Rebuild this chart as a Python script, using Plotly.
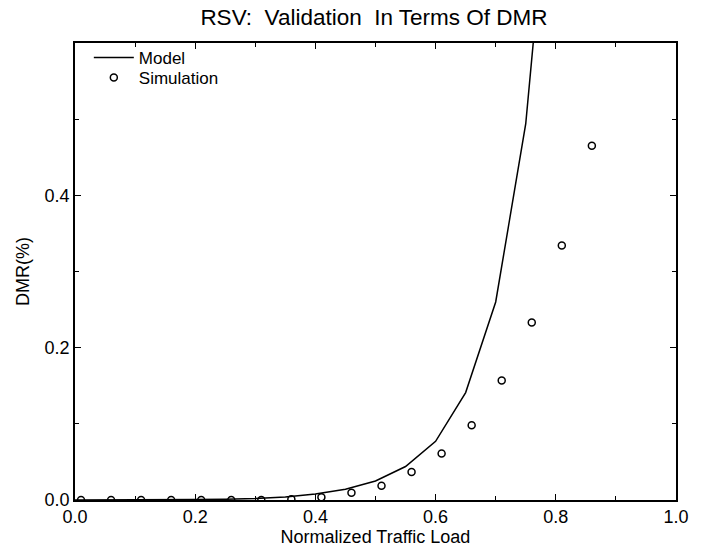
import plotly.graph_objects as go

# Model curve
model_x = [0.0, 0.05, 0.10, 0.15, 0.20, 0.25, 0.30, 0.35, 0.40, 0.45, 0.50, 0.55, 0.60, 0.65, 0.70, 0.75, 0.80]
model_y = [0.0, 0.0, 0.0, 0.0, 0.0005, 0.001, 0.002, 0.004, 0.008, 0.014, 0.025, 0.044, 0.077, 0.141, 0.260, 0.494, 0.92]

# Simulation points
sim_x = [0.01, 0.06, 0.11, 0.16, 0.21, 0.26, 0.31, 0.36, 0.41, 0.46, 0.51, 0.56, 0.61, 0.66, 0.71, 0.76, 0.81, 0.86]
sim_y = [0.0, 0.0, 0.0, 0.0, 0.0, 0.0, 0.0, 0.001, 0.0035, 0.0096, 0.0188, 0.0367, 0.061, 0.098, 0.157, 0.233, 0.334, 0.465]

x_ticks = [0.0, 0.2, 0.4, 0.6, 0.8, 1.0]
x_ticklabels = ["0.0", "0.2", "0.4", "0.6", "0.8", "1.0"]
y_ticks = [0.0, 0.2, 0.4]
y_ticklabels = ["0.0", "0.2", "0.4"]

FONT = "Liberation Sans, Arial, Helvetica, sans-serif"

fig = go.Figure()
fig.add_trace(go.Scatter(x=model_x, y=model_y, mode="lines", name="Model",
                         line=dict(color="black", width=1.5), legend="legend"))
fig.add_trace(go.Scatter(x=sim_x, y=sim_y, mode="markers", name="Simulation",
                         marker=dict(symbol="circle-open", size=7, color="black",
                                     line=dict(width=1.5, color="black")),
                         legend="legend2"))

axis_common = dict(
    showgrid=False, zeroline=False, showline=True, linecolor="black", linewidth=1.5,
    mirror="ticks", ticks="inside", ticklen=6, tickwidth=1, tickcolor="black",
    tickfont=dict(size=18, color="black", family=FONT),
)

legend_common = dict(xanchor="left", yanchor="top", bgcolor="rgba(0,0,0,0)",
                     font=dict(size=17, color="black", family=FONT), itemwidth=40)

fig.update_layout(
    width=711, height=548,
    margin=dict(l=75, r=35, t=43, b=48, autoexpand=False),
    paper_bgcolor="white", plot_bgcolor="white",
    font=dict(family=FONT, color="black"),
    title=dict(text="RSV:\u00a0 Validation\u00a0 In Terms Of DMR", x=0.526, xanchor="center",
               y=0.969, yanchor="middle", font=dict(size=22.5, color="black", family=FONT)),
    showlegend=True,
    legend=dict(x=0.023, y=1.0066, **legend_common),
    legend2=dict(x=0.023, y=0.9628, **legend_common),
    xaxis=dict(range=[0, 1.0], tickvals=x_ticks, ticktext=x_ticklabels,
               title=dict(text="Normalized Traffic Load", font=dict(size=18), standoff=4),
               minor=dict(ticks="inside", dtick=0.1, tick0=0, ticklen=4, tickcolor="black"),
               **axis_common),
    yaxis=dict(range=[0, 0.6], tickvals=y_ticks, ticktext=y_ticklabels,
               title=dict(text="DMR(%)", font=dict(size=18), standoff=10),
               minor=dict(ticks="inside", dtick=0.1, tick0=0, ticklen=4, tickcolor="black"),
               **axis_common),
)

fig.write_html("out.html", config={"displayModeBar": False},
               post_script="document.body.style.margin='0';")
